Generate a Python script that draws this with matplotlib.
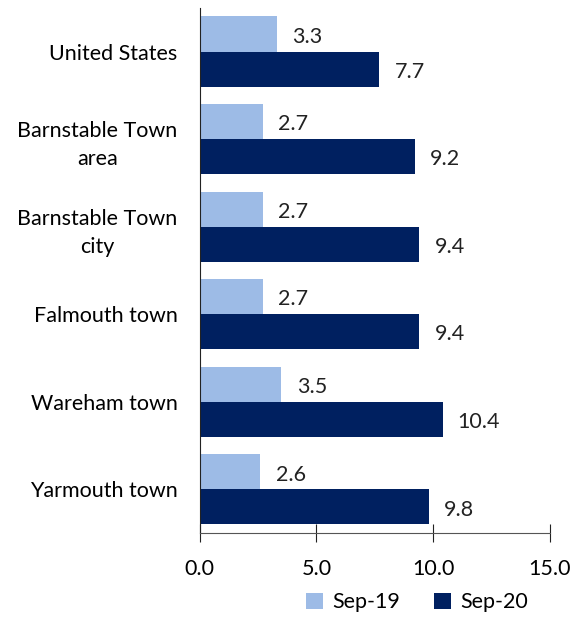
import numpy as np
import matplotlib.pyplot as plt

plt.rcParams['font.family'] = ['Lato', 'DejaVu Sans']

places = ["United States", "Barnstable Town\narea", "Barnstable Town\ncity",
          "Falmouth town", "Wareham town", "Yarmouth town"]
sep19 = [3.3, 2.7, 2.7, 2.7, 3.5, 2.6]
sep20 = [7.7, 9.2, 9.4, 9.4, 10.4, 9.8]
xticks = [0.0, 5.0, 10.0, 15.0]

LIGHT = '#9dbbe6'
DARK = '#002060'
FS = 15.5

fig = plt.figure(figsize=(5.74, 6.18), dpi=100)
ax = fig.add_axes([0.348, 0.1375, 0.61, 0.85])

y = np.arange(len(places))
h = 0.4
b1 = ax.barh(y - h / 2, sep19, height=h, color=LIGHT, label='Sep-19')
b2 = ax.barh(y + h / 2, sep20, height=h, color=DARK, label='Sep-20')

for bars, vals in ((b1, sep19), (b2, sep20)):
    for bar, v in zip(bars, vals):
        ax.annotate(f"{v:.1f}", (bar.get_width(), bar.get_y() + bar.get_height() / 2),
                    xytext=(11, -2), textcoords='offset points',
                    ha='left', va='center', fontsize=FS, color='#222222')

ax.set_ylim(len(places) - 0.5, -0.5)
ax.set_xlim(0, 15)
ax.set_xticks(xticks)
ax.set_xticklabels([f"{t:.1f}" for t in xticks], fontsize=FS)
ax.set_yticks(y)
ax.set_yticklabels(places, fontsize=FS, multialignment='center', linespacing=1.5)

for s in ('top', 'right'):
    ax.spines[s].set_visible(False)
ax.spines['left'].set_color('#222222')
ax.spines['bottom'].set_color('#555555')
ax.tick_params(axis='y', length=0, pad=16)
ax.tick_params(axis='x', direction='inout', length=13, color='#222222', pad=12)

ax.legend(loc='center', bbox_to_anchor=(0.62, -0.132), ncol=2, frameon=False,
          fontsize=FS, handlelength=0.8, handleheight=0.8, columnspacing=1.6,
          handletextpad=0.4, borderpad=0.2)

fig.savefig('out.png', dpi=100)
